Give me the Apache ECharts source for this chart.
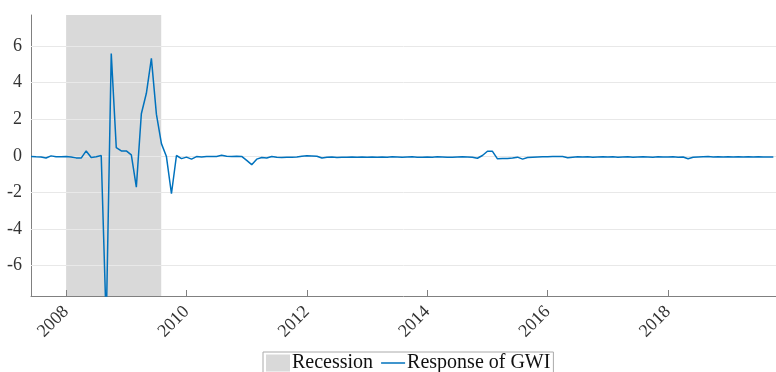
<!DOCTYPE html>
<html>
<head>
<meta charset="utf-8">
<script src="https://cdn.jsdelivr.net/npm/echarts@6/dist/echarts.min.js"></script>
<style>
  html, body { margin: 0; padding: 0; background: #fff; overflow: hidden; }
  #chart { width: 776px; height: 372px; }
</style>
</head>
<body>
<div id="chart"></div>
<script>
// ---- data ----
const startYear = 2007;
const startMonth = 6; // June 2007, monthly observations
const gwiResponse = [
  // 2007 Jun-Dec
  -0.03, -0.05, -0.06, -0.12, 0.00, -0.05, -0.05,
  // 2008
  -0.04, -0.06, -0.11, -0.12, 0.27, -0.09, -0.05, 0.02, -9.2, 5.6, 0.45, 0.27,
  // 2009
  0.27, 0.05, -1.71, 2.3, 3.42, 5.33, 2.28, 0.67, -0.04, -2.07, 0.02, -0.15,
  // 2010
  -0.07, -0.18, -0.04, -0.06, -0.03, -0.04, -0.03, 0.03, -0.02, -0.03, -0.02, -0.03,
  // 2011
  -0.25, -0.48, -0.18, -0.09, -0.12, -0.03, -0.08, -0.09, -0.08, -0.07, -0.06, -0.02,
  // 2012
  0.00, -0.01, -0.02, -0.12, -0.07, -0.06, -0.09, -0.08, -0.07, -0.06, -0.07, -0.06,
  // 2013
  -0.07, -0.06, -0.08, -0.06, -0.07, -0.05, -0.06, -0.08, -0.06, -0.05, -0.07, -0.08,
  // 2014
  -0.06, -0.07, -0.05, -0.06, -0.08, -0.07, -0.06, -0.05, -0.06, -0.07, -0.13, 0.02,
  // 2015
  0.25, 0.25, -0.16, -0.15, -0.15, -0.12, -0.07, -0.18, -0.09, -0.07, -0.06, -0.05,
  // 2016
  -0.05, -0.04, -0.03, -0.03, -0.10, -0.07, -0.05, -0.06, -0.05, -0.07, -0.06, -0.05,
  // 2017
  -0.06, -0.05, -0.07, -0.06, -0.05, -0.07, -0.06, -0.05, -0.06, -0.07, -0.05, -0.06,
  // 2018
  -0.06, -0.05, -0.07, -0.06, -0.16, -0.08, -0.06, -0.05, -0.04, -0.06, -0.05, -0.06,
  // 2019 Jan-Oct
  -0.05, -0.06, -0.05, -0.06, -0.05, -0.06, -0.05, -0.06, -0.06, -0.06
];
const recessionStart = 2008.0;
const recessionEnd = 2009.58;
const xTicks = [2008, 2010, 2012, 2014, 2016, 2018];
const yTicks = [-6, -4, -2, 0, 2, 4, 6];
const xRange = [2007.4167, 2019.794];
const yRange = [-7.66, 7.7];

// ---- build ----
const lineData = gwiResponse.map((v, i) => [startYear + (startMonth - 1 + i) / 12, v]);
const font = '"Liberation Serif", "DejaVu Serif", serif';

const chart = echarts.init(document.getElementById('chart'), null, { renderer: 'canvas' });
chart.setOption({
  animation: false,
  grid: { left: 31, top: 15, right: -2, bottom: 76, containLabel: false },
  xAxis: {
    type: 'value',
    min: xRange[0], max: xRange[1],
    axisLine: { show: true, onZero: false, lineStyle: { color: '#808080', width: 1 } },
    axisTick: { show: true, inside: true, length: 6, customValues: xTicks, lineStyle: { color: '#808080' } },
    axisLabel: {
      customValues: xTicks, rotate: 45, margin: 13,
      color: '#333', fontFamily: font, fontSize: 18,
      formatter: v => String(Math.round(v))
    },
    splitLine: { show: false }
  },
  yAxis: {
    type: 'value',
    min: yRange[0], max: yRange[1],
    axisLine: { show: true, onZero: false, lineStyle: { color: '#808080', width: 1 } },
    axisTick: { show: true, inside: true, length: 8, customValues: yTicks, lineStyle: { color: '#808080' } },
    axisLabel: {
      customValues: yTicks, margin: 9,
      color: '#333', fontFamily: font, fontSize: 18
    },
    splitLine: { show: false }
  },
  legend: {
    left: 263, top: 352,
    orient: 'horizontal',
    padding: [1, 3, 2, 3],
    itemGap: 8,
    itemWidth: 24, itemHeight: 17,
    borderColor: '#aaa', borderWidth: 1,
    backgroundColor: '#fff',
    textStyle: { fontFamily: font, fontSize: 20, color: '#111', padding: [0, 0, 0, -3] },
    data: [
      { name: 'Recession', icon: 'rect' },
      { name: 'Response of GWI', icon: 'path://M0,0 H24 V1.5 H0 Z' }
    ]
  },
  series: [
    {
      name: 'Recession',
      type: 'line',
      data: [],
      z: 1,
      itemStyle: { color: '#d9d9d9' },
      lineStyle: { color: '#d9d9d9' },
      markArea: {
        silent: true,
        z: 0,
        itemStyle: { color: '#d9d9d9' },
        data: [[{ xAxis: recessionStart }, { xAxis: recessionEnd }]]
      },
      markLine: {
        silent: true,
        z: 1,
        symbol: 'none',
        label: { show: false },
        lineStyle: { color: '#e8e8e8', width: 1, type: 'solid' },
        data: yTicks.map(t => ({ yAxis: t }))
      }
    },
    {
      name: 'Response of GWI',
      type: 'line',
      data: lineData,
      symbol: 'none',
      clip: true,
      z: 5,
      lineStyle: { color: '#0072BD', width: 1.5 },
      itemStyle: { color: '#0072BD' }
    }
  ]
});
</script>
</body>
</html>
